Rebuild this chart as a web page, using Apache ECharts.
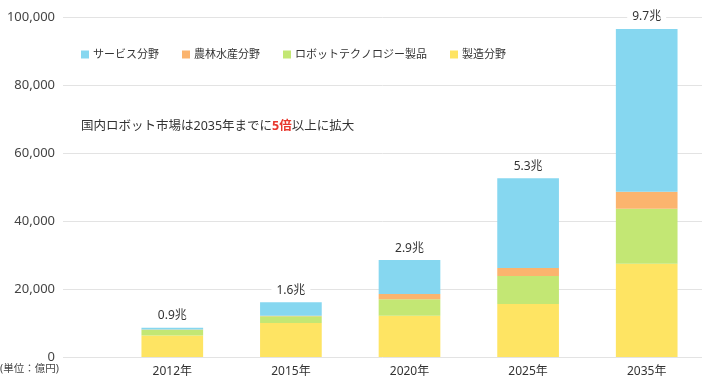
<!DOCTYPE html>
<html>
<head>
<meta charset="utf-8">
<script src="https://cdn.jsdelivr.net/npm/echarts@6/dist/echarts.min.js"></script>
<style>
html,body{margin:0;padding:0;background:#fff;}
#chart{width:707px;height:384px;}
</style>
</head>
<body>
<div id="chart"></div>
<script>
var categories = ['2012年', '2015年', '2020年', '2025年', '2035年'];
var manufacturing = [6300, 10000, 12100, 15600, 27400];
var robotTech = [1700, 2000, 4900, 8200, 16200];
var agriculture = [100, 100, 1500, 2400, 5000];
var service = [500, 4000, 10000, 26400, 47900];
var totalLabels = ['0.9兆', '1.6兆', '2.9兆', '5.3兆', '9.7兆'];
var yTicks = [0, 20000, 40000, 60000, 80000, 100000];

var FONT = '"Noto Sans", "Noto Sans CJK JP", sans-serif';
var chart = echarts.init(document.getElementById('chart'));

var colors = {
  service: '#86d7f0',
  agri: '#fbb46e',
  robot: '#c3e774',
  manu: '#fee463'
};

chart.setOption({
  animation: false,
  textStyle: {fontFamily: FONT},
  grid: [
    {left: 63, right: 5, top: 17, bottom: 27},
    {left: 113, right: 1, top: 17, bottom: 27}
  ],
  legend: {
    left: 76, top: 44,
    itemWidth: 8, itemHeight: 8, itemGap: 23,
    icon: 'rect',
    textStyle: {fontSize: 11, color: '#333', fontFamily: FONT, padding: [0,0,0,-1]},
    data: ['サービス分野', '農林水産分野', 'ロボットテクノロジー製品', '製造分野']
  },
  xAxis: [
    {gridIndex: 0, type: 'category', data: categories, show: false},
    {gridIndex: 1, type: 'category', data: categories,
     axisLine: {show: false}, axisTick: {show: false},
     axisLabel: {color: '#333', fontSize: 12, margin: 9, fontFamily: FONT}}
  ],
  yAxis: [
    {gridIndex: 0, type: 'value', min: 0, max: 100000, interval: 20000,
     axisLine: {show: false}, axisTick: {show: false},
     splitLine: {lineStyle: {color: '#e3e3e3', width: 1}},
     axisLabel: {color: '#444', fontSize: 13, margin: 8, fontFamily: FONT,
       formatter: function (v) { return v.toLocaleString('en-US'); }}},
    {gridIndex: 1, type: 'value', min: 0, max: 100000, interval: 20000, show: false,
     splitLine: {show: false}}
  ],
  series: [
    {name: '製造分野', type: 'bar', stack: 't', xAxisIndex: 1, yAxisIndex: 1,
     data: manufacturing, barWidth: '52%', itemStyle: {color: colors.manu}},
    {name: 'ロボットテクノロジー製品', type: 'bar', stack: 't', xAxisIndex: 1, yAxisIndex: 1,
     data: robotTech, barWidth: '52%', itemStyle: {color: colors.robot}},
    {name: '農林水産分野', type: 'bar', stack: 't', xAxisIndex: 1, yAxisIndex: 1,
     data: agriculture, barWidth: '52%', itemStyle: {color: colors.agri}},
    {name: 'サービス分野', type: 'bar', stack: 't', xAxisIndex: 1, yAxisIndex: 1,
     data: service, barWidth: '52%', itemStyle: {color: colors.service},
     label: {show: true, position: 'top', distance: 5,
       formatter: function (p) { return totalLabels[p.dataIndex]; },
       color: '#333', fontSize: 12, fontFamily: FONT,
       backgroundColor: '#fff', padding: [1, 5]}}
  ],
  graphic: [
    {type: 'text', left: 81, top: 120,
     style: {
       text: '{a|国内ロボット市場は2035年までに}{b|5倍}{a|以上に拡大}',
       rich: {
         a: {fontSize: 12.5, fill: '#333', fontFamily: FONT},
         b: {fontSize: 12.5, fill: '#e8382e', fontWeight: 'bold', fontFamily: FONT}
       }
     }},
    {type: 'text', left: 0, top: 364,
     style: {text: '(単位：億円)', fontSize: 10.5, fill: '#444', fontFamily: FONT}}
  ]
});
</script>
</body>
</html>
